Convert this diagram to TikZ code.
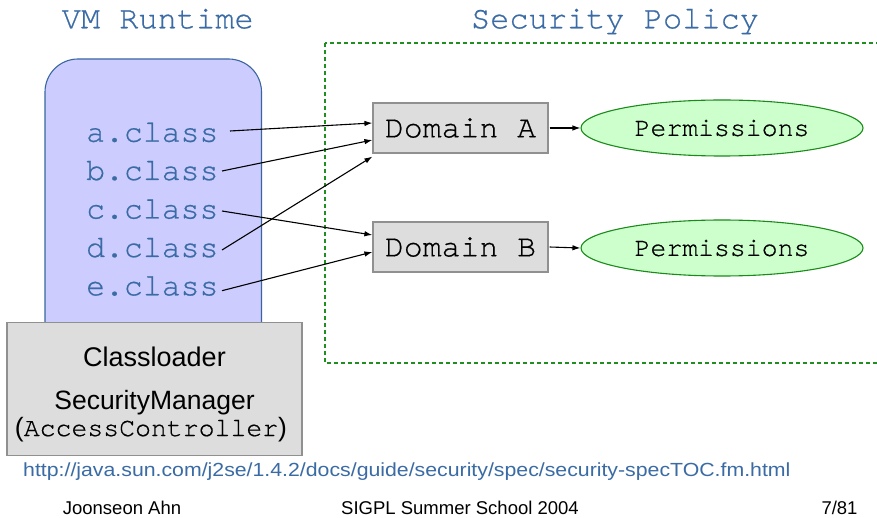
\documentclass[tikz,border=0pt]{standalone}
\usepackage{fontspec}
\setmainfont{Liberation Sans}
\newfontfamily\cour[FakeBold=0.6]{TeX Gyre Cursor}
\usetikzlibrary{arrows.meta,shapes.geometric}
\definecolor{slideblue}{HTML}{3A6BA5}
\definecolor{boxblue}{HTML}{CCCCFF}
\definecolor{boxblueline}{HTML}{3A66A0}
\definecolor{boxgray}{HTML}{DDDDDD}
\definecolor{boxgrayline}{HTML}{909090}
\definecolor{dashgreen}{HTML}{1F8F1F}
\definecolor{permfill}{HTML}{CCFFCC}
\definecolor{permline}{HTML}{1A8A1A}
\tikzset{
  headtitle/.style={font=\cour\fontsize{32}{36}\selectfont, text=slideblue, anchor=base, inner sep=0},
  clsname/.style={font=\cour\fontsize{31.5}{36}\selectfont, text=slideblue, anchor=base west, inner sep=0},
  domainbox/.style={draw=boxgrayline, fill=boxgray, line width=1.2pt, minimum width=175pt, minimum height=50pt, inner sep=0, font=\cour\fontsize{31.5}{36}\selectfont},
  permellipse/.style={ellipse, draw=permline, fill=permfill, line width=1.1pt, minimum width=282pt, minimum height=56pt, inner sep=0, font=\cour\fontsize{26.5}{30}\selectfont},
  connarrow/.style={line width=1.1pt, -{Latex[length=8pt,width=5.5pt]}},
  sanslabel/.style={anchor=base, inner sep=0, font=\fontsize{26.5}{30}\selectfont},
  footlabel/.style={anchor=base, inner sep=0, font=\fontsize{18.5}{22}\selectfont}
}
\begin{document}
\begin{tikzpicture}[x=1pt,y=-1pt]
\useasboundingbox[fill=white] (0,0) rectangle (877,518);
% titles
\node[headtitle] (t1) at (157.7,28.3) {VM Runtime};
\node[headtitle] (t2) at (615,28.3) {Security Policy};
% dashed policy region
\draw[dashgreen, line width=1.2pt, dash pattern=on 4pt off 3pt] (325,43) rectangle (895,363);
% VM runtime box (top corners rounded, bottom hidden behind the classloader box)
\path[fill=boxblue, draw=boxblueline, line width=1.1pt, rounded corners=33pt] (45,330) -- (45,59) -- (261.5,59) -- (261.5,330);
% classloader box
\node[draw=boxgrayline, fill=boxgray, line width=1.2pt, minimum width=295pt, minimum height=133pt, inner sep=0] (cl) at (154.5,389) {};
\node[sanslabel, font=\fontsize{27}{30}\selectfont] (cl1) at (154.5,366) {Classloader};
\node[sanslabel] (cl2) at (154.5,409) {SecurityManager};
\node[sanslabel] (cl3) at (151,436) {(\cour AccessController\rmfamily)};
% class names
\node[clsname] (a) at (86,141.7) {a.class};
\node[clsname] (b) at (86,180) {b.class};
\node[clsname] (c) at (86,218.5) {c.class};
\node[clsname] (d) at (86,257) {d.class};
\node[clsname] (e) at (86,295.3) {e.class};
\coordinate (sa) at (230,131);
\coordinate (sb) at (222,171);
\coordinate (sc) at (222,211);
\coordinate (sd) at (222,250);
\coordinate (se) at (222,290.7);
% domains and permissions
\node[domainbox] (DA) at (460.5,128) {Domain A};
\node[domainbox] (DB) at (460.5,247) {Domain B};
\node[permellipse] (PA) at (722,128) {Permissions};
\node[permellipse] (PB) at (722,248) {Permissions};
% connectors
\draw[connarrow] (sa) -- ([yshift=5pt]DA.west);
\draw[connarrow] (sb) -- ([yshift=-12pt]DA.west);
\draw[connarrow] (sd) -- ([yshift=-3pt]DA.south west);
\draw[connarrow] (sc) -- ([yshift=12pt]DB.west);
\draw[connarrow] (se) -- ([yshift=-5pt]DB.west);
\draw[connarrow] ([xshift=1pt]DA.east) -- (PA.west);
\draw[connarrow] ([xshift=1pt]DB.east) -- (PB.west);
% url and footer
\node[anchor=base west, inner sep=0, text=slideblue, font=\fontsize{19}{22}\selectfont] (url) at (23,476.7) {\scalebox{1.12}[1]{http://java.sun.com/j2se/1.4.2/docs/guide/security/spec/security-specTOC.fm.html}};
\node[footlabel] (f1) at (122,514.3) {Joonseon Ahn};
\node[footlabel] (f2) at (460,514.3) {SIGPL Summer School 2004};
\node[footlabel] (f3) at (839.5,514.3) {7/81};
\end{tikzpicture}
\end{document}
